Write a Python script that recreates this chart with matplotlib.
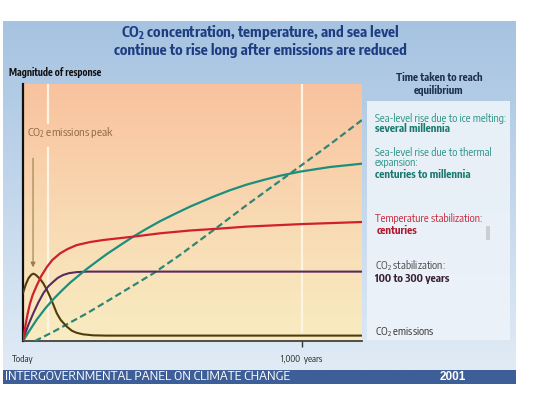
import numpy as np
import matplotlib
matplotlib.use("Agg")
import matplotlib.pyplot as plt
from matplotlib.patches import Rectangle
from matplotlib.colors import LinearSegmentedColormap

NARROW = ['Encode Sans Condensed', 'Archivo Narrow', 'DejaVu Sans']
plt.rcParams['font.family'] = NARROW
plt.rcParams['mathtext.fontset'] = 'custom'
plt.rcParams['mathtext.rm'] = 'Encode Sans Condensed'
plt.rcParams['mathtext.it'] = 'Encode Sans Condensed'
plt.rcParams['mathtext.bf'] = 'Encode Sans Condensed:bold'

# ---------------- data (years, relative magnitude) ----------------
emis_years = [0, 10, 20, 30, 37, 45, 55, 65, 73, 85, 97, 110, 121, 135, 157, 175, 192, 215, 252, 300, 1215]
emis_vals = [0.187, 0.22, 0.245, 0.258, 0.262, 0.258, 0.248, 0.236, 0.224, 0.20, 0.172, 0.138, 0.108,
             0.082, 0.056, 0.04, 0.032, 0.026, 0.022, 0.021, 0.021]

co2_years = [0, 10, 20, 37, 55, 73, 90, 109, 125, 144, 165, 192, 230, 1215]
co2_vals = [0, 0.035, 0.065, 0.108, 0.15, 0.186, 0.212, 0.231, 0.246, 0.257, 0.264, 0.268, 0.27, 0.27]

temp_years = [0, 5, 10, 17, 25, 35, 49, 65, 85, 105, 133, 160, 192, 240, 288, 395, 491, 599, 700, 800, 1000, 1215]
temp_vals = [0, 0.035, 0.068, 0.108, 0.145, 0.18, 0.215, 0.252, 0.287, 0.315, 0.341, 0.358, 0.373, 0.385,
             0.393, 0.406, 0.419, 0.43, 0.437, 0.445, 0.455, 0.463]

therm_years = [0, 20, 49, 80, 109, 140, 168, 200, 228, 265, 300, 350, 395, 440, 491, 545, 599, 681,
               740, 803, 860, 921, 993, 1100, 1215]
therm_vals = [0, 0.035, 0.083, 0.127, 0.163, 0.197, 0.226, 0.255, 0.280, 0.310, 0.338, 0.374, 0.406,
              0.435, 0.466, 0.495, 0.523, 0.561, 0.586, 0.609, 0.626, 0.643, 0.659, 0.677, 0.69]

ice_years = [43, 109, 228, 348, 467, 563, 681, 803, 968, 1100, 1215]
ice_vals = [0, 0.036, 0.107, 0.185, 0.263, 0.335, 0.43, 0.53, 0.66, 0.765, 0.86]

x_max = 1215
marker_years = [90, 1000]
tick_years = [0, 1000]
tick_labels = ['Today', '1,000  years']

title_lines = [r"CO$\mathbf{_2}$ concentration, temperature, and sea level",
               "continue to rise long after emissions are reduced"]

# ---------------- figure ----------------
fig = plt.figure(figsize=(5.4, 4.05), dpi=100)
fig.patch.set_facecolor('white')

bg = fig.add_axes([0, 0, 1, 1])
bg.set_xlim(0, 540)
bg.set_ylim(405, 0)
bg.axis('off')

cmap_panel = LinearSegmentedColormap.from_list('p', ['#a6c3e1', '#c3d7ec', '#e0ebf5'])
grad = np.linspace(0, 1, 256).reshape(-1, 1)
bg.imshow(grad, cmap=cmap_panel, extent=[3, 516, 370, 21], aspect='auto', zorder=0)

bg.add_patch(Rectangle((367, 101), 143, 239, facecolor='#edf3f9', edgecolor='none', alpha=0.9, zorder=1))
bg.add_patch(Rectangle((486, 226), 4, 14, facecolor='#c9cdd4', edgecolor='none', zorder=2))

bg.add_patch(Rectangle((3, 370), 513, 13.5, facecolor='#3e5e98', edgecolor='none', zorder=1))
bg.text(5, 377, "INTERGOVERNMENTAL PANEL ON CLIMATE CHANGE", color='white', fontsize=9.6,
        va='center', ha='left', zorder=3)
bg.text(453, 376.5, "2001", color='white', fontsize=8.5, fontweight='bold', va='center',
        ha='center', zorder=3, family=['Liberation Sans', 'DejaVu Sans'])

bg.text(260, 33, title_lines[0], color='#1d3d80', fontsize=10.6, fontweight='bold',
        ha='center', va='center', zorder=3)
bg.text(260, 51, title_lines[1], color='#1d3d80', fontsize=10.6, fontweight='bold',
        ha='center', va='center', zorder=3)

bg.text(9, 73, "Magnitude of response", color='#111111', fontsize=7, fontweight='bold',
        ha='left', va='center', zorder=3)
bg.text(439, 84, "Time taken to reach\nequilibrium", color='#1f2f50', fontsize=7.6,
        fontweight='bold', ha='center', va='center', linespacing=1.15, zorder=3)

lab_fs = 7.8
tx = 375
bg.text(tx, 118, "Sea-level rise due to ice melting:", color='#2b9486', fontsize=lab_fs, va='center')
bg.text(tx, 129, "several millennia", color='#1b7a70', fontsize=lab_fs, fontweight='bold', va='center')
bg.text(tx, 152, "Sea-level rise due to thermal", color='#2b9486', fontsize=lab_fs, va='center')
bg.text(tx, 163, "expansion:", color='#2b9486', fontsize=lab_fs, va='center')
bg.text(tx, 175, "centuries to millennia", color='#1b7a70', fontsize=lab_fs, fontweight='bold', va='center')
bg.text(tx, 219, "Temperature stabilization:", color='#c8283e', fontsize=lab_fs, va='center')
bg.text(tx + 2, 231, "centuries", color='#b0182e', fontsize=lab_fs, fontweight='bold', va='center')
bg.text(tx, 266, r"CO$_2$ stabilization:", color='#4a4a4a', fontsize=lab_fs, va='center')
bg.text(tx, 278, "100 to 300 years", color='#3a2036', fontsize=lab_fs, fontweight='bold', va='center')
bg.text(tx, 332, r"CO$_2$ emissions", color='#333333', fontsize=lab_fs, va='center')

# ---------------- main axes ----------------
ax = fig.add_axes([23 / 540, (405 - 341) / 405, 339 / 540, 257 / 405])
ax.set_xlim(0, x_max)
ax.set_ylim(0, 1)
cmap_plot = LinearSegmentedColormap.from_list('g', ['#f9ecc2', '#f8d9b2', '#f9c29e'])
ax.imshow(np.linspace(0, 1, 256).reshape(-1, 1), cmap=cmap_plot, origin='lower',
          extent=[0, x_max, 0, 1], aspect='auto', zorder=0)

ax.plot([marker_years[0]] * 2, [0, 0.75], color='#fdf4e4', lw=1.6, zorder=1)
ax.plot([marker_years[0]] * 2, [0.85, 1], color='#fdf4e4', lw=1.6, zorder=1)
ax.plot([marker_years[1]] * 2, [0.035, 1], color='#fdf4e4', lw=1.6, zorder=1)

ax.plot(ice_years, ice_vals, color='#2f8674', lw=1.6, dashes=(3, 1.6), zorder=3)
ax.plot(emis_years, emis_vals, color='#4f3c0c', lw=1.5, zorder=4, solid_joinstyle='round')
ax.plot(co2_years, co2_vals, color='#5a2a5e', lw=1.5, zorder=4, solid_joinstyle='round')
ax.plot(therm_years, therm_vals, color='#1a8f7e', lw=1.6, zorder=5, solid_joinstyle='round')
ax.plot(temp_years, temp_vals, color='#d0202c', lw=1.6, zorder=6, solid_joinstyle='round')

ax.text(15, 0.813, r"CO$_2$ emissions peak", color='#8b6a40', fontsize=8.3, va='center', ha='left',
        zorder=7)
ax.annotate("", xy=(36, 0.276), xytext=(36, 0.722),
            arrowprops=dict(arrowstyle='-|>', color='#9c7c4c', lw=0.8, mutation_scale=7), zorder=7)

for s in ['top', 'right']:
    ax.spines[s].set_visible(False)
ax.spines['left'].set_color('#111111')
ax.spines['left'].set_linewidth(1.6)
ax.spines['bottom'].set_color('#333333')
ax.spines['bottom'].set_linewidth(1.2)
ax.set_yticks([])
ax.set_xticks(tick_years)
ax.set_xticklabels(tick_labels, fontsize=6.5, color='#222222')
ax.tick_params(axis='x', length=4, width=1, color='#333333', pad=6)
ax.get_xaxis().get_major_ticks()[0].tick1line.set_visible(False)

fig.savefig('out.png', dpi=100, facecolor='white')
